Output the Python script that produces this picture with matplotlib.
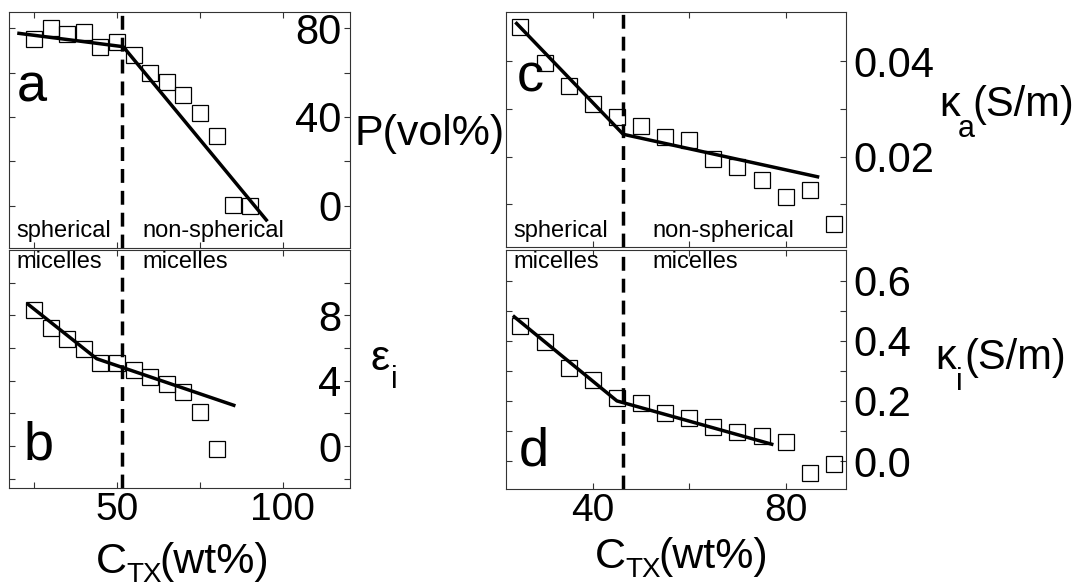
import matplotlib
matplotlib.use("Agg")
import matplotlib.pyplot as plt

plt.rcParams["font.family"] = ["Liberation Sans", "DejaVu Sans"]

# panel a: porosity P(vol%)
c_a = [25, 30, 35, 40, 45, 50, 55, 60, 65, 70, 75, 80, 85, 90]
p_vol = [74.9, 80.2, 77.2, 78.1, 71.6, 73.8, 67.9, 59.9, 55.9, 49.9, 41.9, 31.5, 0.3, 0.0]
fit_a_x = [20.5, 51.9, 95.0]
fit_a_y = [77.6, 71.6, -6.3]

# panel b: epsilon_i
c_b = [25, 30, 35, 40, 45, 50, 55, 60, 65, 70, 75, 80]
eps_i = [8.3, 7.25, 6.55, 5.92, 5.11, 5.11, 4.64, 4.23, 3.79, 3.32, 2.06, -0.2]
fit_b_x = [23.3, 43.9, 85.2]
fit_b_y = [8.67, 5.35, 2.5]

# panel c: kappa_a (S/m)
c_c = [25, 30, 35, 40, 45, 50, 55, 60, 65, 70, 75, 80, 85, 90]
kappa_a = [0.0472, 0.0396, 0.0348, 0.0310, 0.0284, 0.0264, 0.0242, 0.0235,
           0.0195, 0.0179, 0.0151, 0.0116, 0.0130, 0.0059]
fit_c_x = [24.2, 46.3, 86.6]
fit_c_y = [0.0479, 0.0247, 0.0158]

# panel d: kappa_i (S/m)
c_d = [25, 30, 35, 40, 45, 50, 55, 60, 65, 70, 75, 80, 85, 90]
kappa_i = [0.449, 0.396, 0.311, 0.269, 0.211, 0.194, 0.159, 0.144,
           0.113, 0.098, 0.083, 0.064, -0.041, -0.011]
fit_d_x = [23.7, 45.0, 77.1]
fit_d_y = [0.48, 0.20, 0.056]

transition_left = 51.5
transition_right = 46.3

W, H = 1086, 587
fig = plt.figure(figsize=(W / 100, H / 100), dpi=100)


def box(l, t, r, b):
    return [l / W, 1 - b / H, (r - l) / W, (b - t) / H]


def style(ax, inside_labels, xlabels):
    for s in ax.spines.values():
        s.set_linewidth(0.8)
        s.set_color("#333333")
    ax.tick_params(which="both", direction="in", top=True, bottom=True,
                   left=True, right=True, labelleft=False, labelright=True,
                   labelbottom=xlabels, length=4, width=0.8, color="#333333")
    ax.tick_params(axis="y", labelsize=30)
    ax.tick_params(axis="x", labelsize=28, pad=3)
    if inside_labels:
        ax.tick_params(axis="y", pad=-6)
        for t in ax.get_yticklabels():
            t.set_horizontalalignment("right")
    else:
        ax.tick_params(axis="y", pad=5)


def panel(ax, x, y, fx, fy, xt):
    ax.plot(x, y, "s", ms=11, mfc="none", mec="black", mew=0.9)
    ax.plot(fx, fy, "-", color="black", lw=2.5)
    ax.axvline(xt, color="black", lw=2.5, ls=(0, (4, 2.3)))


ax_a = fig.add_axes(box(9, 12, 350, 248))
panel(ax_a, c_a, p_vol, fit_a_x, fit_a_y, transition_left)
ax_a.set_xlim(17.5, 120.2)
ax_a.set_ylim(-18.9, 87.2)
ax_a.set_xticks([50, 100])
ax_a.set_xticks([25, 75], minor=True)
ax_a.set_yticks([0, 40, 80])
ax_a.set_yticks([20, 60], minor=True)
style(ax_a, True, False)

ax_b = fig.add_axes(box(9, 250, 350, 488))
panel(ax_b, c_b, eps_i, fit_b_x, fit_b_y, transition_left)
ax_b.set_xlim(17.5, 120.2)
ax_b.set_ylim(-2.56, 12)
ax_b.set_xticks([50, 100])
ax_b.set_xticks([25, 75], minor=True)
ax_b.set_yticks([0, 4, 8])
ax_b.set_yticks([-2, 2, 6, 10], minor=True)
style(ax_b, True, True)

ax_c = fig.add_axes(box(506, 12, 846, 247))
panel(ax_c, c_c, kappa_a, fit_c_x, fit_c_y, transition_right)
ax_c.set_xlim(22, 92.5)
ax_c.set_ylim(0.0011, 0.0503)
ax_c.set_xticks([40, 80])
ax_c.set_xticks([60], minor=True)
ax_c.set_yticks([0.02, 0.04])
ax_c.set_yticklabels(["0.02", "0.04"])
ax_c.set_yticks([0.01, 0.03], minor=True)
style(ax_c, False, False)

ax_d = fig.add_axes(box(506, 250, 846, 489))
panel(ax_d, c_d, kappa_i, fit_d_x, fit_d_y, transition_right)
ax_d.set_xlim(22, 92.5)
ax_d.set_ylim(-0.093, 0.702)
ax_d.set_xticks([40, 80])
ax_d.set_xticks([60], minor=True)
ax_d.set_yticks([0.0, 0.2, 0.4, 0.6])
ax_d.set_yticklabels(["0.0", "0.2", "0.4", "0.6"])
ax_d.set_yticks([0.1, 0.3, 0.5], minor=True)
style(ax_d, False, True)


def ftext(x, y, s, **kw):
    fig.text(x / W, 1 - y / H, s, **kw)


# panel letters
ftext(17, 102, "a", fontsize=39, va="baseline")
ftext(24, 460, "b", fontsize=39, va="baseline")
ftext(517, 92, "c", fontsize=39, va="baseline")
ftext(519, 465, "d", fontsize=39, va="baseline")

# regime annotations
for x0, x1 in [(16, 142), (513, 652)]:
    ftext(x0, 237, "spherical", fontsize=17, va="baseline")
    ftext(x0, 268, "micelles", fontsize=17, va="baseline")
    ftext(x1, 237, "non-spherical", fontsize=17, va="baseline")
    ftext(x1, 268, "micelles", fontsize=17, va="baseline")

# axis titles, subscripts set low as in the original
ftext(355, 145, "P(vol%)", fontsize=31, va="baseline")

ftext(371, 370, "ε", fontsize=31, va="baseline")
ftext(391, 388, "i", fontsize=22, va="baseline")

ftext(939, 116, "κ", fontsize=30, va="baseline")
ftext(958, 137, "a", fontsize=22, va="baseline")
ftext(972, 116, "(S/m)", fontsize=30, va="baseline")

ftext(935, 369, "κ", fontsize=30, va="baseline")
ftext(956, 390, "i", fontsize=22, va="baseline")
ftext(964, 369, "(S/m)", fontsize=30, va="baseline")

for x0, y0 in [(96, 573), (595, 568)]:
    ftext(x0, y0, "C", fontsize=31, va="baseline")
    ftext(x0 + 30, y0 + 9, "TX", fontsize=20, va="baseline")
    ftext(x0 + 63, y0, "(wt%)", fontsize=31, va="baseline")

fig.savefig("out.png", dpi=100)
